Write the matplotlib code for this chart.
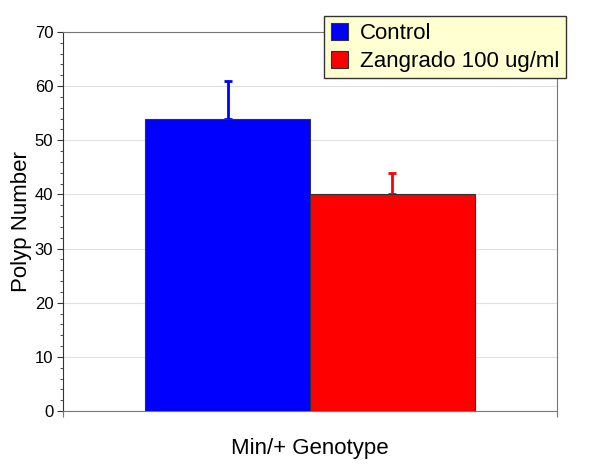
import numpy as np
import matplotlib.pyplot as plt
from matplotlib.ticker import MultipleLocator

plt.rcParams['font.family'] = ['Liberation Sans', 'DejaVu Sans']

groups = ['Control', 'Zangrado 100 ug/ml']
means = [54, 40]
errors = [7, 4]
colors = ['#0000ff', '#ff0000']

fig = plt.figure(figsize=(6, 4.73), dpi=100)
ax = fig.add_axes([63 / 600, 1 - 411 / 473, 494 / 600, 379 / 473])

positions = [-0.5, 0.5]
for pos, m, e, c, lab in zip(positions, means, errors, colors, groups):
    ax.bar(pos, m, width=1.0, color=c, edgecolor='#333333', linewidth=0.8,
           label=lab, zorder=3)
    ax.errorbar(pos, m, yerr=[[0], [e]], fmt='none', ecolor=c, elinewidth=2,
                capsize=3, capthick=2, zorder=2)

ax.set_xlim(-1.5, 1.5)
ax.set_ylim(0, 70)
ax.yaxis.set_major_locator(MultipleLocator(10))
ax.yaxis.set_minor_locator(MultipleLocator(2))
ax.set_xticks([-1.5, 1.5])
ax.set_xticklabels(['', ''])
ax.grid(axis='y', color='#e0e0e0', linewidth=0.8, zorder=0)
ax.set_axisbelow(True)
for s in ax.spines.values():
    s.set_color('#777777')
ax.spines['left'].set_color('#333333')
ax.tick_params(axis='y', labelsize=12, length=4, pad=3, color='#333333')
ax.tick_params(axis='y', which='minor', length=2, color='#333333')
ax.tick_params(axis='x', length=4, color='#777777')

ax.set_ylabel('Polyp Number', fontsize=16, labelpad=2)
ax.set_xlabel('Min/+ Genotype', fontsize=16, labelpad=12)

leg = ax.legend(loc='upper left', bbox_to_anchor=(324 / 600, 1 - 16 / 473),
                bbox_transform=fig.transFigure, fontsize=16, frameon=True,
                fancybox=False, handlelength=0.8, handleheight=0.8,
                handletextpad=0.5, borderpad=0.3, labelspacing=0.3,
                borderaxespad=0)
leg.get_frame().set_facecolor('#ffffd2')
leg.get_frame().set_edgecolor('#333333')
leg.get_frame().set_alpha(1)

fig.savefig('out.png', dpi=100)
